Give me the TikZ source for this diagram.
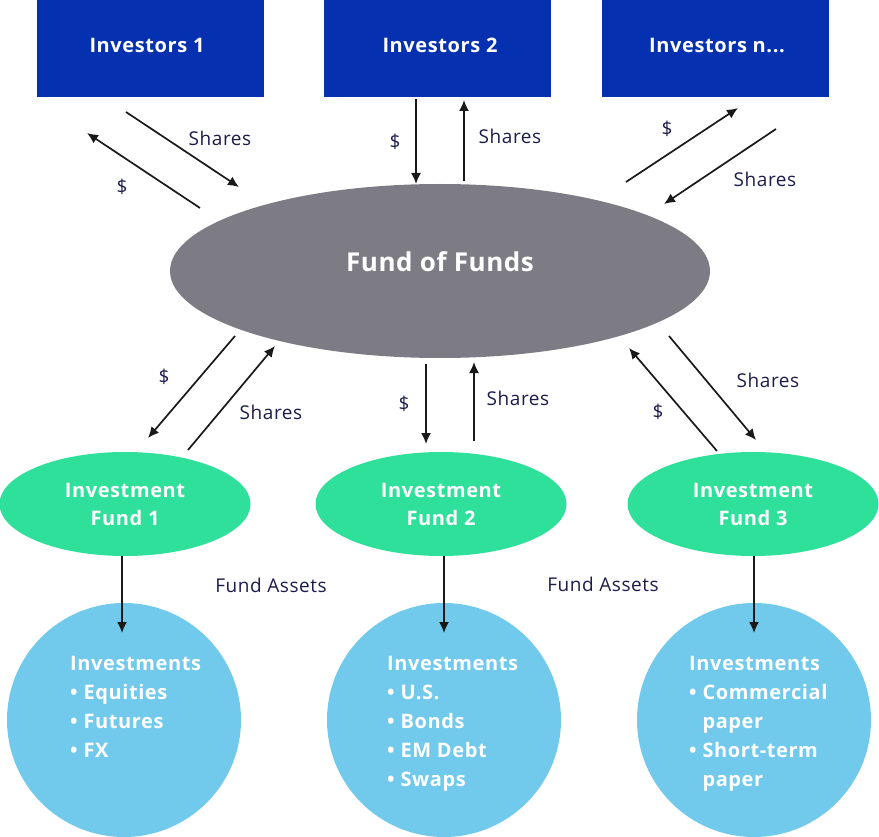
\documentclass[tikz,border=0pt]{standalone}
\usepackage{fontspec}
\setmainfont{Open Sans}
\usetikzlibrary{shapes.geometric,arrows.meta}
\definecolor{invblue}{HTML}{0530B0}
\definecolor{fofgray}{HTML}{7D7C84}
\definecolor{fundgreen}{HTML}{2EE09A}
\definecolor{circblue}{HTML}{71C9EC}
\definecolor{labelnavy}{HTML}{1C1C4C}
\newfontfamily\boldsp[LetterSpace=3]{Open Sans}
\newfontfamily\fofsp[LetterSpace=2]{Open Sans}
\newfontfamily\labsp[LetterSpace=3]{Open Sans}
\tikzset{
  investorbox/.style={draw=none,fill=invblue,minimum width=227pt,minimum height=97pt,inner sep=0pt},
  investortext/.style={inner sep=0pt,text=white,font=\boldsp\bfseries\fontsize{20}{24}\selectfont},
  fofnode/.style={ellipse,fill=fofgray,minimum width=540pt,minimum height=174pt,inner sep=0pt},
  foftext/.style={inner sep=0pt,text=white,font=\fofsp\bfseries\fontsize{26}{30}\selectfont},
  fundnode/.style={ellipse,fill=fundgreen,minimum width=251pt,minimum height=104pt,inner sep=0pt,text=white,align=center,font=\boldsp\bfseries\fontsize{20}{28}\selectfont},
  investcirc/.style={circle,fill=circblue,minimum size=234pt,inner sep=0pt},
  circtext/.style={anchor=north west,inner sep=0pt,text=white,align=left,font=\boldsp\bfseries\fontsize{20}{29}\selectfont},
  flowarrow/.style={line width=1.7pt,draw=black!90,-{Latex[length=11pt,width=10pt]}},
  flowlabel/.style={text=labelnavy,inner sep=0pt,font=\labsp\fontsize{19}{22}\selectfont}
}
\begin{document}
\begin{tikzpicture}[x=1pt,y=-1pt]
\useasboundingbox (0,0) rectangle (879,837);
% investors
\node[investorbox] (inv1) at (150.5,48.5) {};
\node[investorbox] (inv2) at (437.5,48.5) {};
\node[investorbox] (invn) at (715.5,48.5) {};
\node[investortext] (inv1t) at (147,45) {Investors 1};
\node[investortext] (inv2t) at (440,45) {Investors 2};
\node[investortext] (invnt) at (717,45) {Investors n...};
% fund of funds
\node[fofnode] (fof) at (440,271) {};
\node[foftext] (foft) at (440,262) {Fund of Funds};
% funds
\node[fundnode] (f1) at (125,504) {Investment\\Fund 1};
\node[fundnode] (f2) at (441,504) {Investment\\Fund 2};
\node[fundnode] (f3) at (753,504) {Investment\\Fund 3};
% circles
\node[investcirc] (c1) at (124,720) {};
\node[investcirc] (c2) at (444,720) {};
\node[investcirc] (c3) at (754,720) {};
\node[circtext] (t1) at (70,656.5) {Investments\\• Equities\\• Futures\\• FX};
\node[circtext] (t2) at (387,656.5) {Investments\\• U.S.\\• Bonds\\• EM Debt\\• Swaps};
\node[circtext] (t3) at (689,656.5) {Investments\\• Commercial\\\hphantom{• }paper\\• Short-term\\\hphantom{• }paper};
% investors 1
\coordinate (a1s) at (126,112); \coordinate (a1e) at (239,187);
\coordinate (b1s) at (200,208); \coordinate (b1e) at (87,133);
\draw[flowarrow] (a1s) -- (a1e);
\draw[flowarrow] (b1s) -- (b1e);
\node[flowlabel] (l1s) at (220,138) {Shares};
\node[flowlabel] (l1d) at (122,187) {\$};
% investors 2
\coordinate (a2s) at (416,99); \coordinate (a2e) at (416,184);
\coordinate (b2s) at (464,181); \coordinate (b2e) at (464,100);
\draw[flowarrow] (a2s) -- (a2e);
\draw[flowarrow] (b2s) -- (b2e);
\node[flowlabel] (l2d) at (395,142) {\$};
\node[flowlabel] (l2s) at (510,136) {Shares};
% investors n
\coordinate (a3s) at (626,182); \coordinate (a3e) at (738,108);
\coordinate (b3s) at (776,129); \coordinate (b3e) at (664,204);
\draw[flowarrow] (a3s) -- (a3e);
\draw[flowarrow] (b3s) -- (b3e);
\node[flowlabel] (l3d) at (667,129) {\$};
\node[flowlabel] (l3s) at (765,179) {Shares};
% fund 1
\coordinate (d1s) at (235,336); \coordinate (d1e) at (148,438);
\coordinate (e1s) at (188,450); \coordinate (e1e) at (275,346);
\draw[flowarrow] (d1s) -- (d1e);
\draw[flowarrow] (e1s) -- (e1e);
\node[flowlabel] (m1d) at (164,377) {\$};
\node[flowlabel] (m1s) at (271,412) {Shares};
% fund 2
\coordinate (d2s) at (426,364); \coordinate (d2e) at (426,444);
\coordinate (e2s) at (474,441); \coordinate (e2e) at (474,362);
\draw[flowarrow] (d2s) -- (d2e);
\draw[flowarrow] (e2s) -- (e2e);
\node[flowlabel] (m2d) at (404,404) {\$};
\node[flowlabel] (m2s) at (518,398) {Shares};
% fund 3
\coordinate (d3s) at (669,336); \coordinate (d3e) at (756,440);
\coordinate (e3s) at (717,451); \coordinate (e3e) at (629,348);
\draw[flowarrow] (d3s) -- (d3e);
\draw[flowarrow] (e3s) -- (e3e);
\node[flowlabel] (m3s) at (768,380) {Shares};
\node[flowlabel] (m3d) at (658,412) {\$};
% fund assets
\coordinate (g1s) at (122,556); \coordinate (g1e) at (122,633);
\coordinate (g2s) at (444,556); \coordinate (g2e) at (444,633);
\coordinate (g3s) at (754,556); \coordinate (g3e) at (754,633);
\draw[flowarrow] (g1s) -- (g1e);
\draw[flowarrow] (g2s) -- (g2e);
\draw[flowarrow] (g3s) -- (g3e);
\node[flowlabel] (fa1) at (271,585) {Fund Assets};
\node[flowlabel] (fa2) at (603,584) {Fund Assets};
\end{tikzpicture}
\end{document}
